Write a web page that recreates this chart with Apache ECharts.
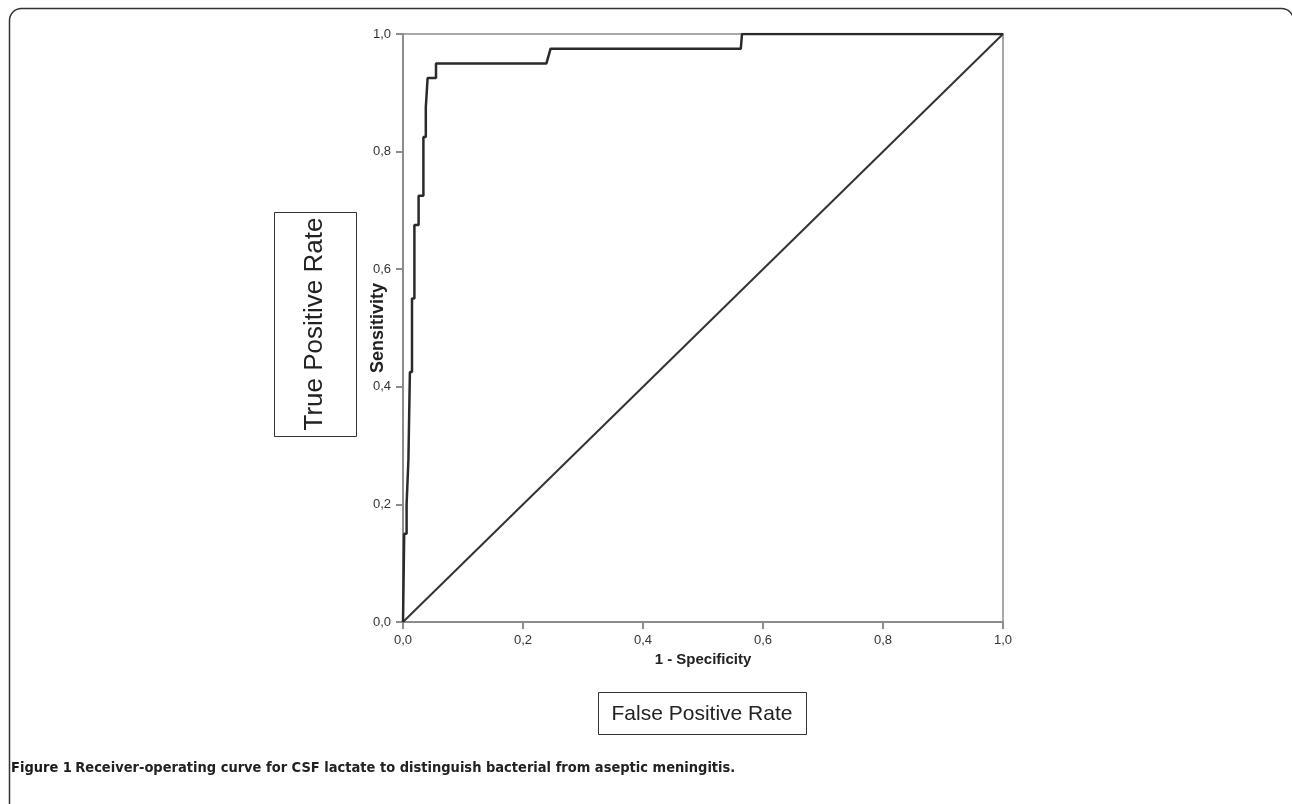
<!DOCTYPE html>
<html>
<head>
<meta charset="utf-8">
<script src="https://cdn.jsdelivr.net/npm/echarts@6/dist/echarts.min.js"></script>
<style>
  html, body { margin: 0; padding: 0; background: #fff; }
  #chart { width: 1292px; height: 804px; }
</style>
</head>
<body>
<div id="chart"></div>
<script>
// ROC curve points (1 - specificity, sensitivity)
const rocX = [0, 0.002, 0.002, 0.006, 0.006, 0.009, 0.009, 0.0115, 0.0115, 0.015, 0.015,
  0.019, 0.019, 0.026, 0.026, 0.034, 0.034, 0.038, 0.038, 0.041, 0.041, 0.055, 0.055,
  0.239, 0.246, 0.563, 0.565, 1.0];
const rocY = [0, 0, 0.15, 0.15, 0.2, 0.2, 0.275, 0.275, 0.425, 0.425, 0.55,
  0.55, 0.675, 0.675, 0.725, 0.725, 0.825, 0.825, 0.875, 0.875, 0.925, 0.925, 0.95,
  0.95, 0.975, 0.975, 1.0, 1.0];
// reference diagonal
const refX = [0, 1];
const refY = [0, 1];

const toPairs = (xs, ys) => xs.map((v, i) => [v, ys[i]]);
const fmt = v => v.toFixed(1).replace('.', ',');

const chart = echarts.init(document.getElementById('chart'));

const option = {
  animation: false,
  backgroundColor: '#fff',
  grid: {
    left: 403, top: 34, width: 600, height: 588,
    show: true, borderColor: '#a8a8a8', borderWidth: 2
  },
  xAxis: {
    type: 'value', min: 0, max: 1, interval: 0.2,
    name: '1 - Specificity', nameLocation: 'middle', nameGap: 30, nameMoveOverlap: false,
    nameTextStyle: { fontFamily: 'Liberation Sans', fontWeight: 'bold', fontSize: 15, color: '#222' },
    axisLine: { lineStyle: { color: '#8c8c8c', width: 2 } },
    axisTick: { length: 7, lineStyle: { color: '#8c8c8c', width: 2 } },
    axisLabel: { formatter: fmt, margin: 12, fontFamily: 'Liberation Sans', fontSize: 13, color: '#333' },
    splitLine: { show: false }
  },
  yAxis: {
    type: 'value', min: 0, max: 1, interval: 0.2,
    name: 'Sensitivity', nameLocation: 'middle', nameGap: 16, nameMoveOverlap: false,
    nameTextStyle: { fontFamily: 'Liberation Sans', fontWeight: 'bold', fontSize: 18, color: '#222' },
    axisLine: { lineStyle: { color: '#8c8c8c', width: 2 } },
    axisTick: { length: 7, lineStyle: { color: '#8c8c8c', width: 2 } },
    axisLabel: { formatter: fmt, margin: 12, fontFamily: 'Liberation Sans', fontSize: 13, color: '#333' },
    splitLine: { show: false }
  },
  series: [
    {
      type: 'line', data: toPairs(refX, refY), showSymbol: false, silent: true,
      lineStyle: { color: '#333', width: 2 }
    },
    {
      type: 'line', data: toPairs(rocX, rocY), showSymbol: false, silent: true,
      lineStyle: { color: '#2a2a2a', width: 2.5 }
    }
  ],
  graphic: [
    // outer rounded frame (right edge falls just off the picture)
    { type: 'rect', shape: { x: 9.5, y: 8.5, width: 1284, height: 900, r: 12 },
      style: { fill: null, stroke: '#333', lineWidth: 1.5 } },
    // True Positive Rate box
    { type: 'rect', shape: { x: 274.5, y: 212.5, width: 82, height: 224 },
      style: { fill: '#fff', stroke: '#333', lineWidth: 1 } },
    { type: 'text', x: 315, y: 324, rotation: Math.PI / 2,
      style: { text: 'True Positive Rate', font: '26px "Liberation Sans"', fill: '#222',
        align: 'center', verticalAlign: 'middle' } },
    // False Positive Rate box
    { type: 'rect', shape: { x: 598.5, y: 692.5, width: 208, height: 42 },
      style: { fill: '#fff', stroke: '#333', lineWidth: 1 } },
    { type: 'text', x: 702, y: 714,
      style: { text: 'False Positive Rate', font: '21px "Liberation Sans"', fill: '#222',
        align: 'center', verticalAlign: 'middle' } },
    // caption
    { type: 'text', x: 11, y: 768,
      style: {
        text: '{b|Figure 1} {n|Receiver-operating curve for CSF lactate to distinguish bacterial from aseptic meningitis.}',
        verticalAlign: 'middle',
        rich: {
          b: { fontFamily: '"Liberation Sans Narrow", "DejaVu Sans Condensed", sans-serif', fontWeight: 'bold', fontSize: 14.5, fill: '#1a1a1a' },
          n: { fontFamily: '"Liberation Sans Narrow", "DejaVu Sans Condensed", sans-serif', fontWeight: 'bold', fontSize: 14.5, fill: '#222' }
        }
      } }
  ]
};

chart.setOption(option);
</script>
</body>
</html>
